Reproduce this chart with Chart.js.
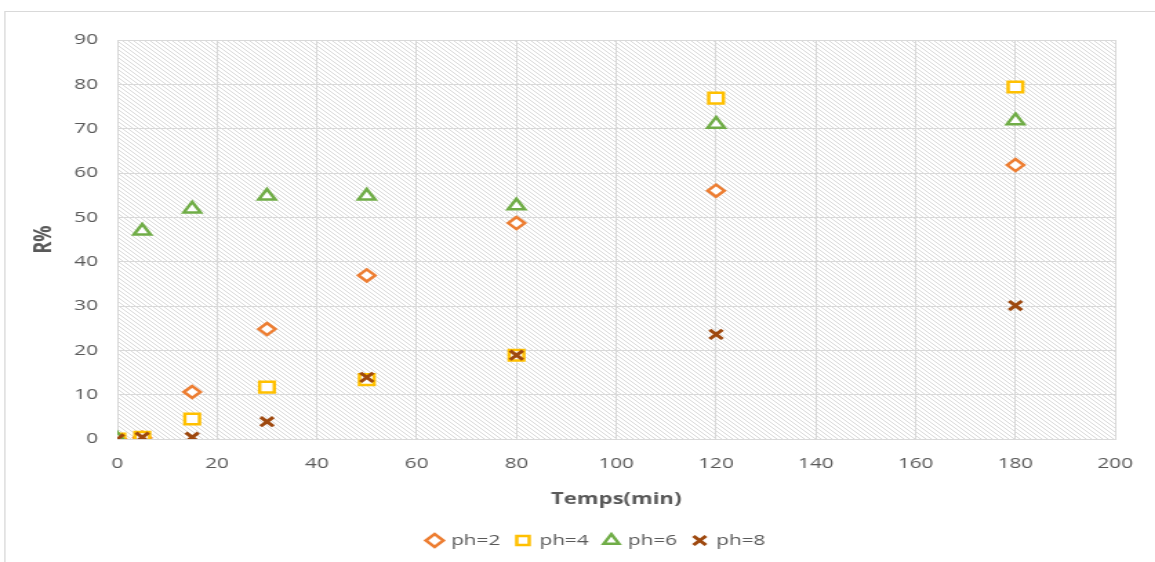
<!DOCTYPE html>
<html>
<head>
<meta charset="utf-8">
<script src="https://cdn.jsdelivr.net/npm/chart.js@4/dist/chart.umd.min.js"></script>
<style>
  html, body { margin: 0; padding: 0; background: #fff; overflow: hidden; }
  /* the reference picture is stretched sideways, so the chart is drawn narrower and widened */
  #wrap { width: 837px; height: 562px; transform: scaleX(1.38); transform-origin: 0 0; }
</style>
</head>
<body>
<div id="wrap"><canvas id="myChart" width="837" height="562"></canvas></div>
<script>
const times = [0, 5, 15, 30, 50, 80, 120, 180];
const ph2 = [0, 0.3, 10.6, 24.8, 36.9, 48.7, 56, 61.8];
const ph4 = [0, 0.4, 4.5, 11.7, 13.4, 18.9, 76.9, 79.4];
const ph6 = [0, 46.9, 51.9, 54.8, 54.8, 52.6, 71, 71.8];
const ph8 = [0, 0.4, 0.4, 3.9, 13.9, 18.9, 23.6, 30.1];

const toPoints = (vals) => times.map((t, i) => ({ x: t, y: vals[i] }));

// hatched plot background
const tile = document.createElement("canvas");
tile.width = 4;
tile.height = 4;
const tctx = tile.getContext("2d");
tctx.strokeStyle = "#dadada";
tctx.lineWidth = 1;
tctx.beginPath();
tctx.moveTo(-1, -1); tctx.lineTo(5, 5);
tctx.moveTo(-1, 3); tctx.lineTo(1, 5);
tctx.moveTo(3, -1); tctx.lineTo(5, 1);
tctx.stroke();

const hatchPlugin = {
  id: "hatch",
  afterLayout(chart) {
    // legend sits a little right of centre in the reference
    chart.legend.left += 17;
    chart.legend.right += 17;
  },
  beforeDraw(chart) {
    const { ctx, chartArea: a } = chart;
    ctx.save();
    ctx.fillStyle = "#fff";
    ctx.fillRect(0, 0, chart.width, chart.height);
    ctx.strokeStyle = "#d9d9d9";
    ctx.lineWidth = 1;
    ctx.strokeRect(3.5, 11.5, 1000, 600);
    ctx.fillStyle = ctx.createPattern(tile, "repeat");
    ctx.fillRect(a.left, a.top, a.right - a.left, a.bottom - a.top);
    ctx.restore();
  },
};

const ctx = document.getElementById("myChart").getContext("2d");

const tickFont = { family: "'Open Sans', sans-serif", size: 15 };
const titleFont = { family: "'Open Sans', sans-serif", size: 16, weight: "bold" };

const myChart = new Chart(ctx, {
  type: "scatter",
  data: {
    datasets: [
      {
        label: "ph=2",
        data: toPoints(ph2),
        order: 3,
        pointStyle: "rectRot",
        pointRadius: 6,
        borderColor: "#ED7D31",
        backgroundColor: "#ffffff",
        borderWidth: 2.5,
      },
      {
        label: "ph=4",
        data: toPoints(ph4),
        order: 2,
        pointStyle: "rect",
        pointRadius: 7.5,
        borderColor: "#FFC000",
        backgroundColor: "#ffffff",
        borderWidth: 2.5,
      },
      {
        label: "ph=6",
        data: toPoints(ph6),
        order: 1,
        pointStyle: "triangle",
        pointRadius: 7,
        borderColor: "#70AD47",
        backgroundColor: "#ffffff",
        borderWidth: 2.5,
      },
      {
        label: "ph=8",
        data: toPoints(ph8),
        order: 0,
        pointStyle: "crossRot",
        pointRadius: 6.5,
        borderColor: "#9E480E",
        backgroundColor: "#9E480E",
        borderWidth: 3,
      },
    ],
  },
  options: {
    responsive: false,
    animation: false,
    layout: { padding: { left: 16, right: 22, top: 40, bottom: 4 } },
    scales: {
      x: {
        type: "linear",
        min: 0,
        max: 200,
        afterFit: (s) => { s.height = 82; },
        grid: { color: "#d9d9d9", drawTicks: false },
        border: { color: "#d9d9d9" },
        ticks: { stepSize: 20, color: "#595959", font: tickFont, padding: 16 },
        title: {
          display: true,
          text: "Temps(min)",
          color: "#595959",
          font: titleFont,
          padding: { top: 4, bottom: 12 },
        },
      },
      y: {
        min: 0,
        max: 90,
        afterFit: (s) => { s.width = 69; },
        grid: { color: "#d9d9d9", drawTicks: false },
        border: { color: "#d9d9d9" },
        ticks: { stepSize: 10, color: "#595959", font: tickFont, padding: 14 },
        title: {
          display: true,
          text: "R%",
          color: "#595959",
          font: { family: "'Open Sans', sans-serif", size: 18, weight: "bold" },
          padding: { bottom: 0, top: 5 },
        },
      },
    },
    plugins: {
      legend: {
        position: "bottom",
        labels: {
          usePointStyle: true,
          color: "#595959",
          font: tickFont,
          boxWidth: 9,
          boxHeight: 9,
          padding: 12,
          sort: (a, b) => a.datasetIndex - b.datasetIndex,
        },
      },
      tooltip: { enabled: false },
    },
  },
  plugins: [hatchPlugin],
});
</script>
</body>
</html>
